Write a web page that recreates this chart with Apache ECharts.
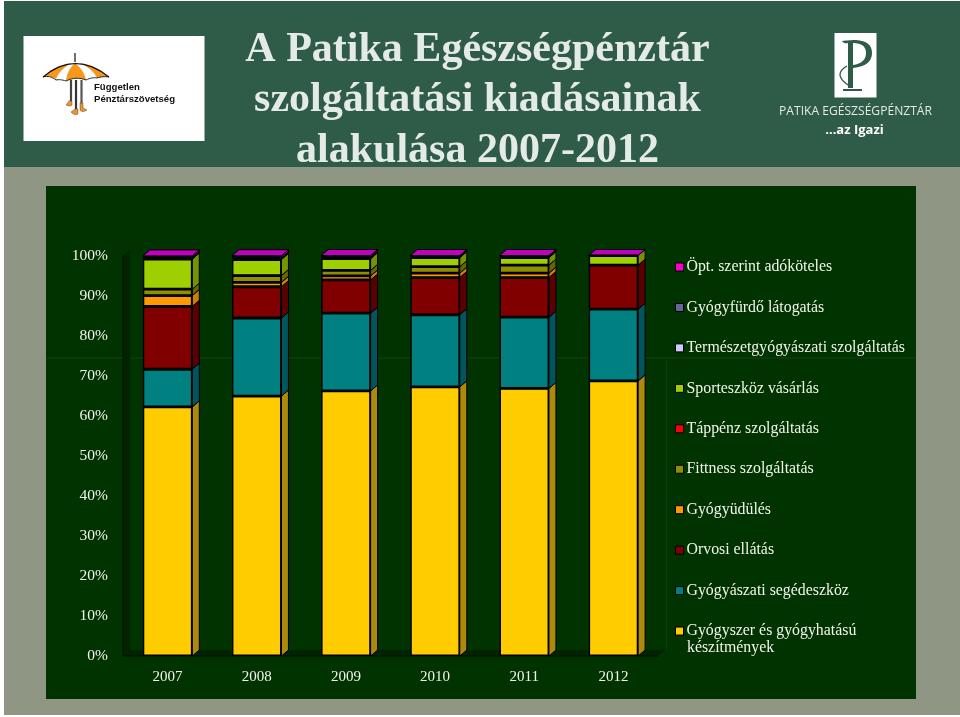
<!DOCTYPE html>
<html><head><meta charset="utf-8">
<style>html,body{margin:0;padding:0;background:#fff}#c{width:960px;height:717px}</style>
<script src="https://cdn.jsdelivr.net/npm/echarts@6/dist/echarts.min.js"></script>
</head><body><div id="c"></div>
<script>
const years = ['2007','2008','2009','2010','2011','2012'];
const gyogyszer   = [62.2, 64.9, 66.2, 67.2, 66.8, 68.7];
const segedeszkoz = [9.4, 19.5, 19.4, 18.0, 17.8, 17.9];
const orvosi      = [15.7, 7.8, 8.3, 9.3, 9.9, 11.0];
const udules      = [2.7, 1.1, 1.0, 1.1, 1.1, 0];
const fittness    = [1.6, 1.7, 1.4, 1.6, 2.0, 0];
const tappenz     = [0, 0, 0, 0, 0, 0];
const sport       = [7.5, 4.0, 2.9, 2.25, 1.85, 2.4];
const termeszet   = [0.1, 0.15, 0.1, 0.1, 0.15, 0];
const furdo       = [0.3, 0.3, 0.3, 0.15, 0.2, 0];
const opt         = [0.4, 0.5, 0.4, 0.3, 0.2, 0];
const seriesNames = ['Gyógyszer és gyógyhatású készítmények','Gyógyászati segédeszköz','Orvosi ellátás','Gyógyüdülés','Fittness szolgáltatás','Táppénz szolgáltatás','Sporteszköz vásárlás','Természetgyógyászati szolgáltatás','Gyógyfürdő látogatás','Öpt. szerint adóköteles'];
const seriesValues = [gyogyszer,segedeszkoz,orvosi,udules,fittness,tappenz,sport,termeszet,furdo,opt];
const colors = ['#ffcc00','#008080','#800000','#ff9900','#8f8f00','#ff0000','#9ecf00','#ccccff','#666699','#ff00cc'];
const sideColors = ['#ad8a0c','#005560','#5a0000','#c4820c','#666600','#aa0000','#749400','#8888aa','#444466','#aa0088'];
const topColor = '#c000c0';
const txt = '#f1f5ea';
const serif = '"Liberation Serif","Times New Roman",serif';
const DX = 7, DY = 6;

const sideData = [];
years.forEach((y,i)=>{
  let acc = 0;
  seriesValues.forEach((vals,s)=>{
    sideData.push([i, acc, acc+vals[i], s]);
    acc += vals[i];
  });
});

// turns a small "M x y Q cx cy x y L x y Z" outline into points for a graphic polygon/polyline
function outline(d){
  const t=d.replace(/([MQLZ])/g,' $1 ').trim().split(/\s+/);
  const pts=[];let i=0,cur=null;
  while(i<t.length){
    const k=t[i++];
    if(k==='M'||k==='L'){cur=[+t[i],+t[i+1]];i+=2;pts.push(cur);}
    else if(k==='Q'){
      const c=[+t[i],+t[i+1]],e=[+t[i+2],+t[i+3]];i+=4;
      for(let n=1;n<=8;n++){const u=n/8,v=1-u;pts.push([v*v*cur[0]+2*u*v*c[0]+u*u*e[0],v*v*cur[1]+2*u*v*c[1]+u*u*e[1]]);}
      cur=e;
    }
  }
  return pts;
}
const P=(d,fill,stroke,lw)=>({type:fill&&fill!=='none'?'polygon':'polyline',shape:{points:outline(d)},style:{fill:fill&&fill!=='none'?fill:null,stroke:stroke||null,lineWidth:lw||0},silent:true});
const rect=(x,y,w,h,fill)=>({type:'rect',shape:{x,y,width:w,height:h},style:{fill},silent:true});
const label=(x,y,t,font,fill,align)=>({type:'text',x,y,style:{text:t,font,fill,textAlign:align||'left',textVerticalAlign:'middle'},silent:true});

const decor = [
  rect(4,1,956,166,'#2f5b49'),
  rect(4,167,956,548,'#8f9683'),
  rect(46,186,870,513,'#003300'),
  rect(46,357.5,870,1,'#144214'),
  rect(666,358,1,292,'#0f3e0f'),
  // Független Pénztárszövetség logo
  rect(23.5,36,181,105,'#ffffff'),
  P('M75 63 Q67 70 66 81 Q76 76 86 80 Q84 70 75 63Z','#f7981d'),
  P('M72 63 Q52 66 44 77 Q50 75 56 79 Q60 69 72 63Z','#f7981d'),
  P('M79 63 Q97 65 108 77 Q103 76 97 78 Q92 68 79 63Z','#f7981d'),
  P('M43 77 Q75 50 109 77','none','#111',1.2),
  P('M43 77 Q50 75 56 80 Q60 79 66 81 Q76 76 86 80 Q92 77 97 78 Q103 76 109 77','none','#111',0.9),
  P('M75 53 L75 62','none','#333',1.4),
  P('M71 80 L71 101','none','#444',2.2),
  P('M76 80 L76 109','none','#333',2.2),
  P('M81.5 80 L81.5 103','none','#555',2.2),
  P('M69 101 L72 101 L72 105 Q70 107 66 105Z','#e8962a','#333',0.4),
  P('M75 109 L78 109 L78 114 Q75 116 71 112Z','#e8962a','#333',0.4),
  P('M80 103 L83 103 L83 108 L87 110 Q82 113 80 110Z','#e8962a','#333',0.4),
  label(94,87.5,'Független','bold 9.6px "Liberation Sans",Arial,sans-serif','#111'),
  label(94,99.5,'Pénztárszövetség','bold 9.6px "Liberation Sans",Arial,sans-serif','#111'),
  // Patika logo
  rect(834.5,33,42,64.5,'#ffffff'),
  P('M848 43 L853 43 L853 88 L848 88Z','#2f5b49'),
  P('M842 41 Q850 40 856 40 Q872 41 872 53 Q872 66 853 68 L853 65 Q866 63 866 53 Q866 43 853 43 L848 43 Q844 44 842 41Z','#2f5b49'),
  P('M847 66 Q840 70 840 75 Q841 81 850 86','none','#2f5b49',1.3),
  P('M843 90 L862 90','none','#2f5b49',2),
  label(855.5,111.5,'PATIKA EGÉSZSÉGPÉNZTÁR','12.1px "Open Sans","Noto Sans",sans-serif','#e4ebe4','center'),
  label(854.5,130,'...az Igazi','bold 13px "Open Sans","Noto Sans",sans-serif','#ffffff','center'),
  // second line of the wrapped legend entry
  label(687,648,'készítmények','15.85px '+serif,txt)
];

const barSeries = seriesNames.map((n,s)=>({
  name:n,type:'bar',stack:'total',barWidth:49.4,data:seriesValues[s],z:5,
  itemStyle:{color:colors[s],borderColor:'#000',borderWidth:1.4},
  emphasis:{disabled:true},animation:false
}));

const sideSeries = {
  type:'custom',name:'3D',data:sideData,z:3,silent:true,animation:false,
  encode:{x:0,y:[1,2]},
  renderItem(params,api){
    const i=api.value(0),lo=api.value(1),hi=api.value(2),s=api.value(3);
    const halfW=49.4/2;
    const a=api.coord([i,lo]),b=api.coord([i,hi]);
    const xr=a[0]+halfW,xl=a[0]-halfW;
    const kids=[];
    if(hi>lo){
      kids.push({type:'polygon',shape:{points:[[xr,a[1]],[xr+DX,a[1]-DY],[xr+DX,b[1]-DY],[xr,b[1]]]},
        style:{fill:sideColors[s],stroke:'#000',lineWidth:1}});
    }
    if(s===seriesValues.length-1){
      kids.push({type:'polygon',shape:{points:[[xl,b[1]],[xl+DX,b[1]-DY],[xr+DX,b[1]-DY],[xr,b[1]]]},
        style:{fill:topColor,stroke:'#000',lineWidth:1}});
    }
    return {type:'group',children:kids};
  },
  clip:false
};

const wallSeries = {
  type:'custom',name:'wall',data:[[0,0]],z:1,silent:true,animation:false,clip:false,
  renderItem(params,api){
    const c=params.coordSys;
    const x0=c.x,y0=c.y+c.height,w=c.width,yT=c.y;
    return {type:'group',children:[
      {type:'polygon',shape:{points:[[x0,y0],[x0+DX,y0-DY],[x0+DX,yT-DY],[x0,yT]]},style:{fill:'#002300'}},
      {type:'polygon',shape:{points:[[x0,y0],[x0+DX,y0-DY],[x0+w+DX,y0-DY],[x0+w,y0]]},style:{fill:'#002300'}},
      {type:'line',shape:{x1:x0,y1:yT,x2:x0,y2:y0},style:{stroke:'#001800',lineWidth:1.5}},
      {type:'line',shape:{x1:x0,y1:y0,x2:x0+w,y2:y0},style:{stroke:'#001800',lineWidth:1.5}}
    ]};
  }
};

const chart = echarts.init(document.getElementById('c'),null,{renderer:'canvas'});
chart.setOption({
  animation:false,
  backgroundColor:'#ffffff',
  graphic:{elements:decor},
  title:{
    text:'A Patika Egészségpénztár\nszolgáltatási kiadásainak\nalakulása 2007-2012',
    left:472.5,top:19.5,textAlign:'center',
    textStyle:{fontFamily:serif,fontWeight:'bold',fontSize:42,lineHeight:50.5,color:'#e4ebe6'}
  },
  legend:{
    orient:'vertical',left:670,top:254,itemWidth:8,itemHeight:8,itemGap:24.45,
    data:seriesNames.slice().reverse(),
    icon:'rect',selectedMode:false,
    formatter:n=>n.replace(' készítmények',''),
    textStyle:{fontFamily:serif,fontSize:15.85,lineHeight:16,color:txt,padding:[0,0,0,-2]},
    itemStyle:{borderColor:'#000',borderWidth:1}
  },
  grid:{left:123,top:255.5,width:535,height:400.5,containLabel:false},
  xAxis:{type:'category',data:years,
    axisLine:{show:false},axisTick:{show:false},
    axisLabel:{fontFamily:serif,fontSize:15,color:txt,margin:14}},
  yAxis:{type:'value',min:0,max:100,interval:10,
    axisLine:{show:false},axisTick:{show:false},splitLine:{show:false},
    axisLabel:{fontFamily:serif,fontSize:15.5,color:txt,margin:15,padding:[2,0,0,0],formatter:'{value}%'}},
  series:[wallSeries,sideSeries].concat(barSeries)
});
</script></body></html>
